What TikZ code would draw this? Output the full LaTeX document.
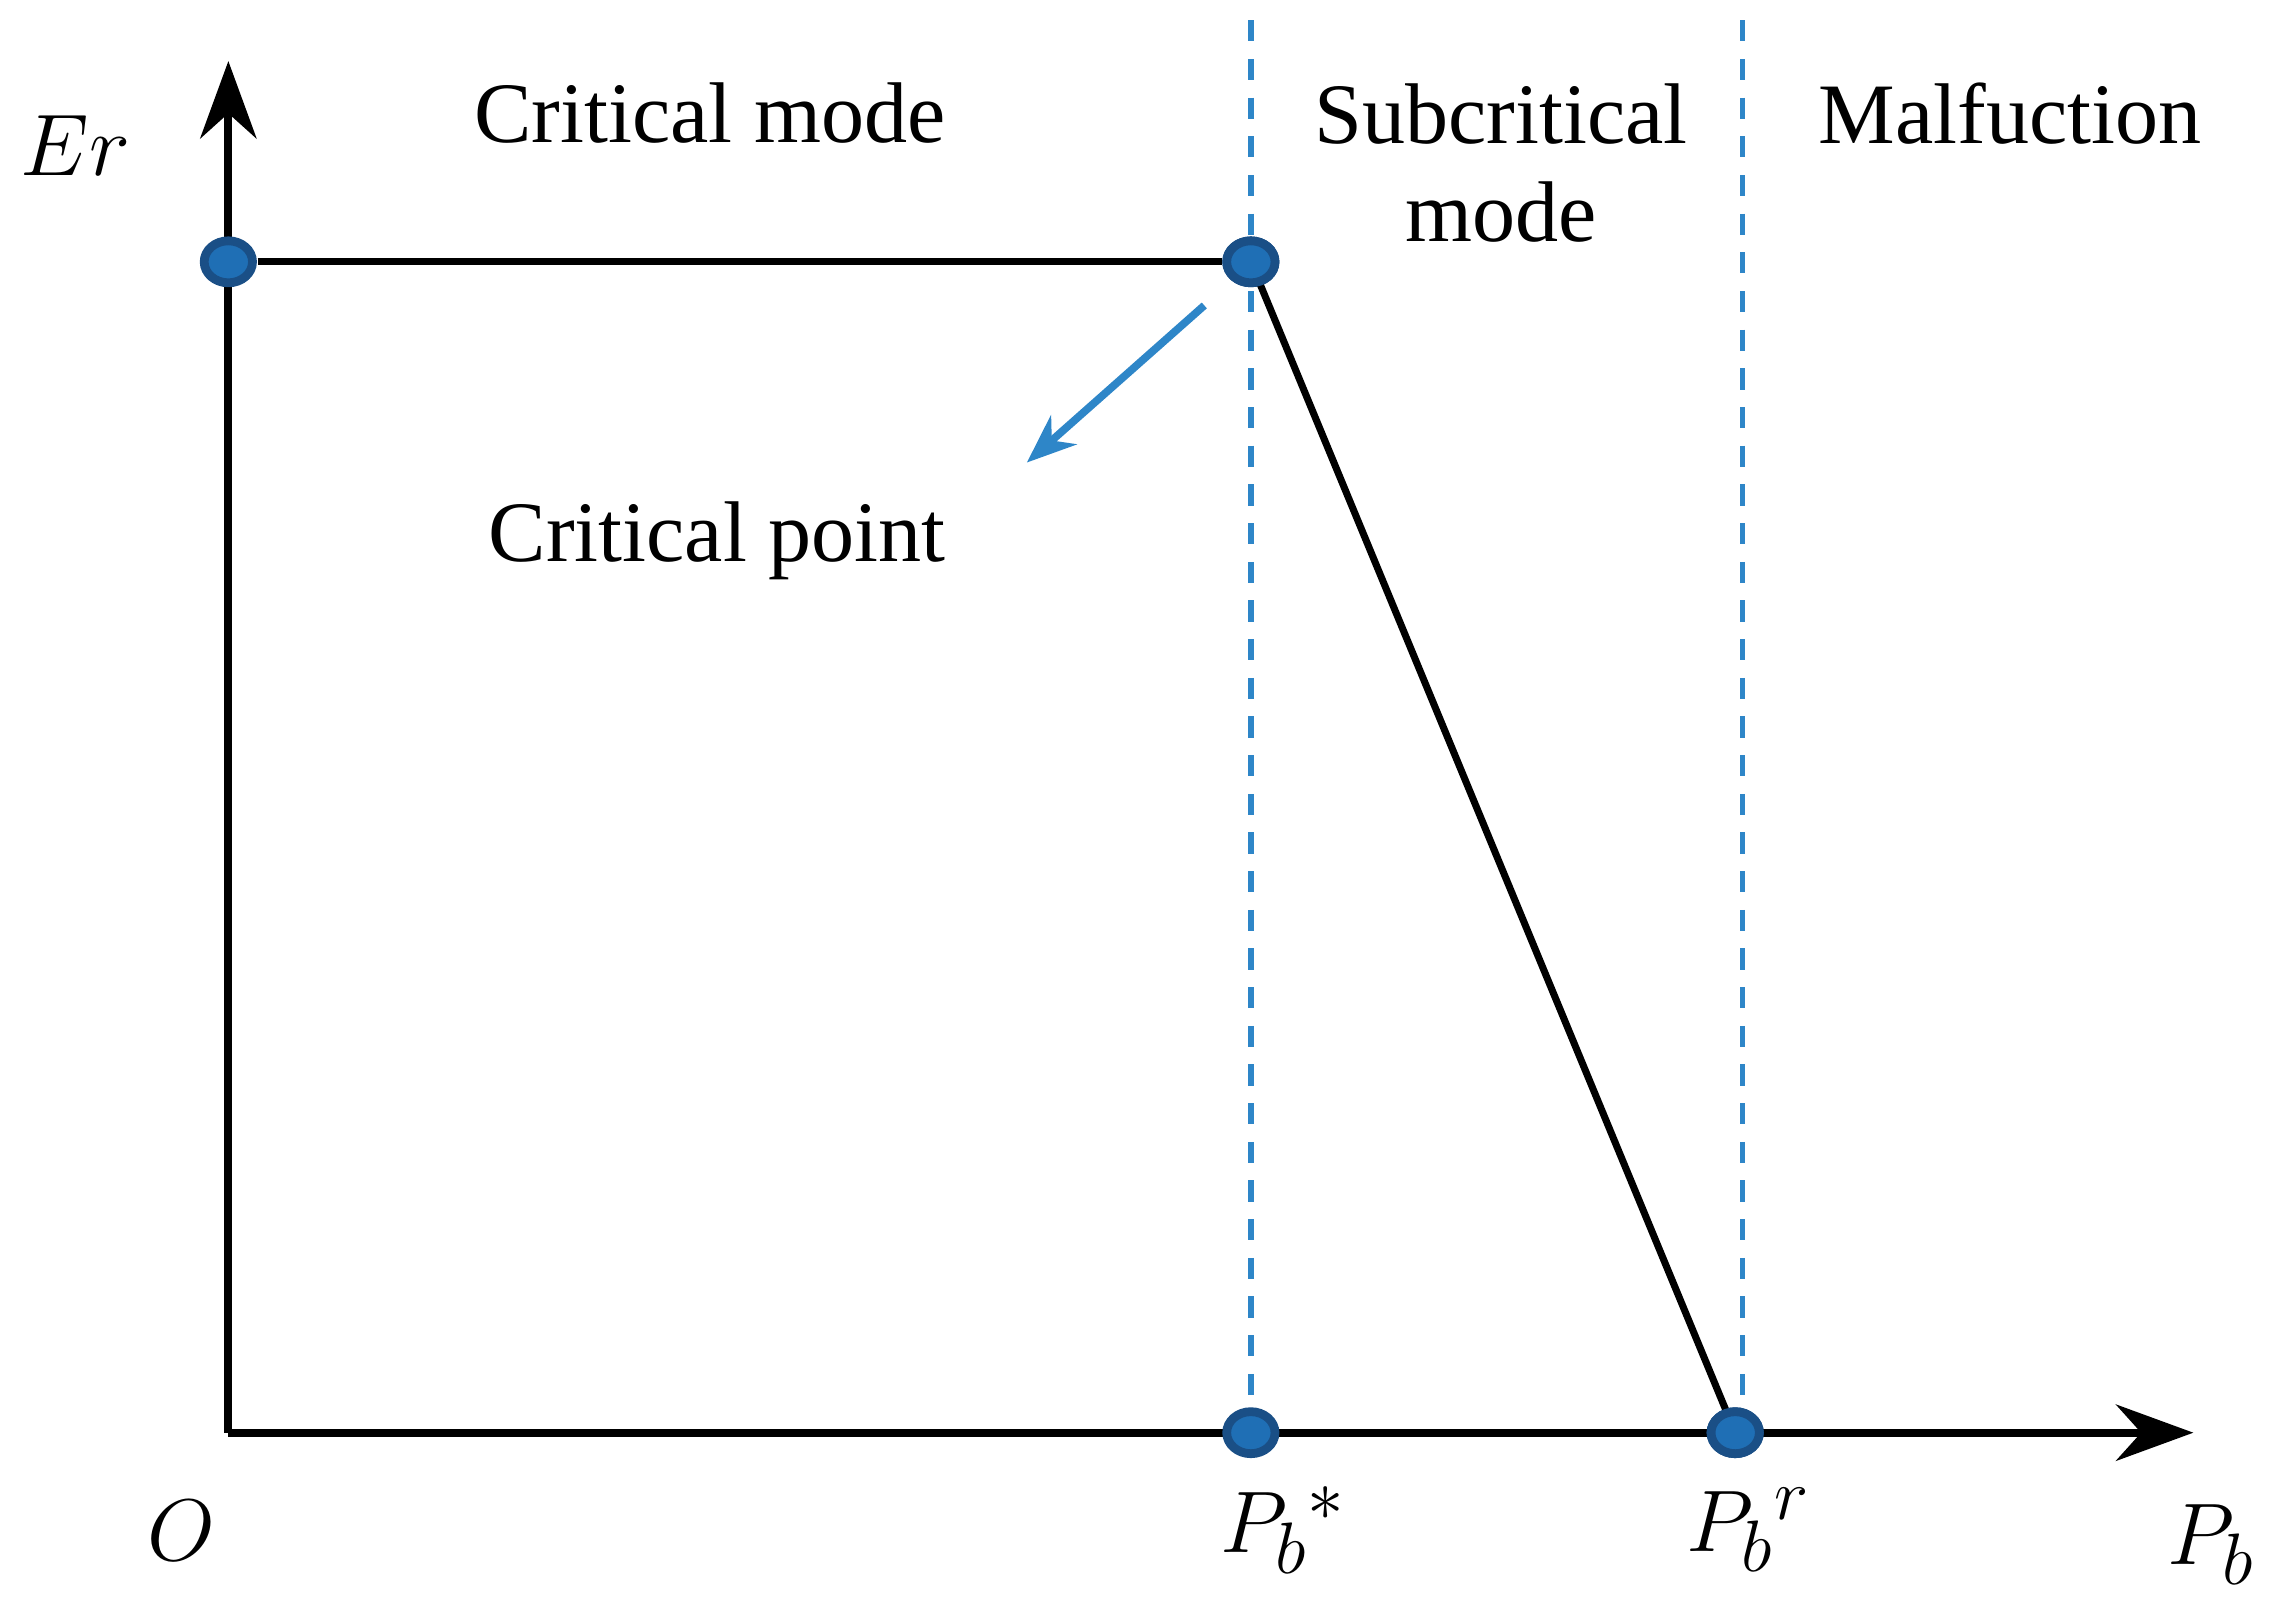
\documentclass[tikz,border=0pt]{standalone}
\usepackage{fontspec}
\setmainfont{Liberation Serif}
\usetikzlibrary{arrows.meta}
\definecolor{dotblue}{HTML}{1F6FB5}
\definecolor{dotedge}{HTML}{1A4F86}
\definecolor{arrblue}{HTML}{2E86C8}
\tikzset{
  axis/.style={line width=2.2pt,-{Stealth[length=22pt,width=16pt]}},
  curve/.style={line width=2pt},
  divider/.style={arrblue,line width=1.6pt,dash pattern=on 6pt off 5pt},
  pt/.style={circle,fill=dotblue,draw=dotedge,line width=2.5pt,minimum width=0.42cm,minimum height=0.36cm,inner sep=0pt,xscale=1.15},
  lbl/.style={font=\fontsize{24.5}{30}\selectfont,align=center},
  mlbl/.style={font=\fontsize{30}{34}\selectfont}
}
\begin{document}
\begin{tikzpicture}[x=0.014545cm,y=-0.014545cm]
\useasboundingbox (0,0) rectangle (1560,1109);
\coordinate (O) at (157,985);
\coordinate (ytop) at (157,42);
\coordinate (xend) at (1508,985);
\coordinate (d1t) at (860,14);
\coordinate (d1b) at (860,985);
\coordinate (d2t) at (1198,14);
\coordinate (d2b) at (1198,985);
\draw[divider] (d1t) -- (d1b);
\draw[divider] (d2t) -- (d2b);
\draw[axis] (O) -- (xend);
\draw[axis] (O) -- (ytop);
\node[pt] (A) at (157,180) {};
\node[pt] (B) at (860,180) {};
\node[pt] (C) at (860,985) {};
\node[pt] (D) at (1193,985) {};
\draw[curve] (A) -- (B);
\draw[curve] (B.center) -- (D.center);
\node[pt] at (B) {};
\node[pt] at (D) {};
\coordinate (as) at (828,210);
\coordinate (ae) at (706,318);
\draw[arrblue,line width=2.2pt,-{Stealth[length=14pt,width=11pt]}] (as) -- (ae);
\node[lbl] (t1) at (488,78) {Critical mode};
\node[lbl] (t2) at (1032,112) {Subcritical\\[-2pt]mode};
\node[lbl] (t3) at (1382,78) {Malfuction};
\node[lbl] (t4) at (493,372) {Critical point};
\node[mlbl] (er) at (52,100) {$Er$};
\node[mlbl] (o) at (125,1052) {$O$};
\node[mlbl] (p1) at (882,1052) {$P_b{}^{*}$};
\node[mlbl] (p2) at (1202,1052) {$P_b{}^{r}$};
\node[mlbl] (p3) at (1520,1062) {$P_b$};
\end{tikzpicture}
\end{document}
